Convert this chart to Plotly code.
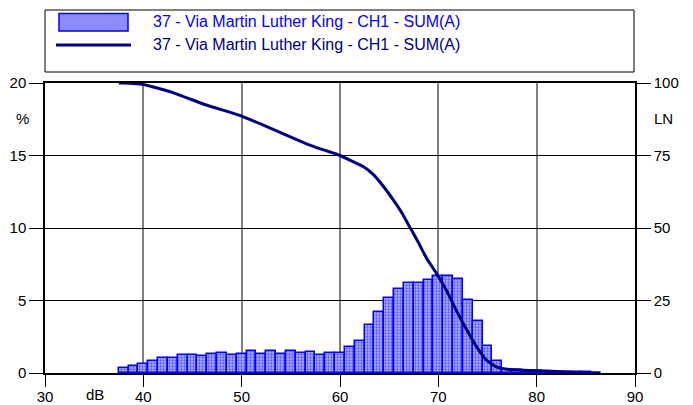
import plotly.graph_objects as go

# level distribution (bars, %) per 1 dB class
levels = list(range(38, 87))
share = [0.32, 0.46, 0.62, 0.83, 1.01, 1.01, 1.22, 1.22, 1.18, 1.29,
         1.41, 1.27, 1.31, 1.50, 1.34, 1.50, 1.34, 1.50, 1.36, 1.45,
         1.22, 1.36, 1.38, 1.82, 2.21, 3.32, 4.18, 5.19, 5.77, 6.23,
         6.21, 6.39, 6.71, 6.69, 6.48, 5.03, 3.62, 1.85, 0.81, 0.22,
         0.18, 0.15, 0.12, 0.10, 0.08, 0.06, 0.05, 0.04, 0.03]

# cumulative curve LN (%)
ln_db = [37.5, 38, 40, 43, 46.4, 50, 53.2, 56.6, 58, 59,
         60, 61, 62.4, 63.4, 64.4, 65.4, 66.3, 67.1, 68, 68.8, 69.8, 70.9,
         71.9, 72.9, 73.9, 74.9, 75.9, 77, 78.3, 80, 82, 84, 86.5]
ln_val = [100, 100, 99.5, 96.7, 92.4, 88.6, 84.0, 79.0,
          77.3, 76.2, 75.0, 73.4, 71.1, 68.4, 64.4, 59.8, 55.2, 50.3, 44.8,
          39.6, 34.4, 28.0, 21.1, 14.8, 9.0, 4.4, 2.1, 1.3, 1.0, 0.8, 0.5,
          0.2, 0]

series_name = "37 - Via Martin Luther King - CH1 - SUM(A)"

FONT = "Arial, Liberation Sans, sans-serif"
L, R, T, B = 45, 58, 83, 32
W, H = 693, 405
PW, PH = W - L - R, H - T - B


def px_x(px):
    return (px - L) / PW


def px_y(py):
    return (H - B - py) / PH


fig = go.Figure()

fig.add_trace(go.Bar(
    x=levels, y=share, width=1, name=series_name, showlegend=False,
    marker=dict(color="#9C9CFF",
                line=dict(color="#0000FF", width=1.5),
                pattern=dict(shape=".", fgcolor="#0000FF", bgcolor="#B0B0FF",
                             size=3, solidity=0.45)),
))

fig.add_trace(go.Scatter(
    x=ln_db, y=ln_val, yaxis="y2", mode="lines", name=series_name,
    showlegend=False, line=dict(color="#000080", width=3, shape="spline", smoothing=0.3),
))

axis_font = dict(family=FONT, size=15, color="#000000")

fig.update_layout(
    width=W, height=H,
    margin=dict(l=L, r=R, t=T, b=B),
    paper_bgcolor="white", plot_bgcolor="white",
    bargap=0,
    xaxis=dict(range=[30, 90], tick0=30, dtick=10, showgrid=True, automargin=False,
               gridcolor="#808080", gridwidth=1.5, zeroline=False,
               showline=True, linecolor="#000000", linewidth=1.5, mirror=True,
               ticks="outside", ticklen=12, tickcolor="#000000",
               ticklabelstandoff=-3, tickfont=axis_font),
    yaxis=dict(range=[0, 20], tick0=0, dtick=5, showgrid=True, automargin=False,
               gridcolor="#000000", gridwidth=1, zeroline=False,
               showline=True, linecolor="#000000", linewidth=1.5,
               ticks="outside", ticklen=14, tickcolor="#000000",
               tickfont=axis_font),
    yaxis2=dict(range=[0, 100], tick0=0, dtick=25, overlaying="y", side="right",
                showgrid=False, zeroline=False, automargin=False,
                showline=True, linecolor="#000000", linewidth=1.5,
                ticks="outside", ticklen=14, tickcolor="#000000",
                tickfont=axis_font),
)

# axis unit labels
for txt, x, y in [("%", 22, 118), ("LN", 663, 118), ("dB", 95, 394)]:
    fig.add_annotation(text=txt, x=px_x(x), y=px_y(y), xref="paper", yref="paper",
                       xanchor="center", yanchor="middle",
                       showarrow=False, font=axis_font)

# legend box drawn by hand
fig.add_shape(type="rect", xref="paper", yref="paper",
              x0=px_x(45), x1=px_x(634), y0=px_y(72), y1=px_y(10),
              line=dict(color="#000000", width=1), fillcolor="white")
fig.add_shape(type="rect", xref="paper", yref="paper",
              x0=px_x(59), x1=px_x(128), y0=px_y(31), y1=px_y(13.5),
              line=dict(color="#0000FF", width=1.5), fillcolor="#8C8CFF")
fig.add_shape(type="line", xref="paper", yref="paper",
              x0=px_x(56), x1=px_x(131), y0=px_y(45), y1=px_y(45),
              line=dict(color="#000080", width=3))
fig.add_annotation(text=series_name, x=px_x(151), y=px_y(21), xref="paper", yref="paper",
                   xanchor="left", yanchor="middle", showarrow=False,
                   font=dict(family=FONT, size=16, color="#0000FF"))
fig.add_annotation(text=series_name, x=px_x(151), y=px_y(44), xref="paper", yref="paper",
                   xanchor="left", yanchor="middle", showarrow=False,
                   font=dict(family=FONT, size=16, color="#000080"))

# page has a default 8px body margin; drop it so the figure sits at 0,0
fig.write_html("out.html", config={"displayModeBar": False},
               post_script="document.body.style.margin='0';")
